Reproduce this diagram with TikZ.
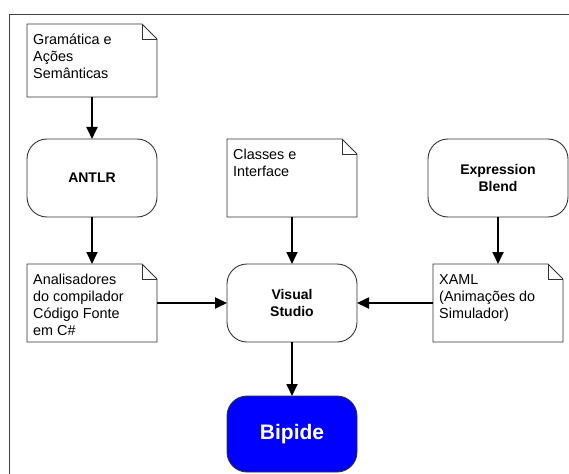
\documentclass[tikz,border=0pt]{standalone}
\usepackage{fontspec}
\setmainfont{Liberation Sans}
\usepackage{xcolor}
\usetikzlibrary{arrows.meta}

\definecolor{bipideblue}{RGB}{0,0,255}

\tikzset{
  process/.style={draw=black!80, line width=0.9pt, rounded corners=20pt,
    minimum width=130pt, minimum height=78pt, inner sep=0pt, outer sep=0pt,
    align=center, font=\fontsize{14}{17}\selectfont\bfseries},
  docnote/.style={minimum width=130pt, minimum height=78pt, inner sep=0pt, outer sep=0pt},
  doctext/.style={anchor=north west, align=left, inner xsep=6pt, inner ysep=10pt,
    font=\fontsize{14.4}{17}\selectfont},
  flow/.style={line width=1.8pt, -{Triangle[length=12pt,width=11pt]}},
}

\begin{document}
\begin{tikzpicture}[x=1pt, y=-1pt]
		\useasboundingbox (0,0) rectangle (569,473);
		% frame
		\draw[black!75, line width=1.5pt] (580,14.5) -- (9.5,14.5) -- (9.5,480);
		% documents
		\node[docnote, minimum height=73pt] (gram) at (92,60.5) {};
		\node[docnote] (classes) at (292,178) {};
		\node[docnote] (anal) at (92,303) {};
		\node[docnote] (xaml) at (498,303) {};
		\foreach \n in {gram,classes,anal,xaml} {
			\draw[draw=black!80, line width=0.9pt] (\n.north west) -- ([xshift=-15pt]\n.north east)
				-- ([yshift=-15pt]\n.north east) -- (\n.south east) -- (\n.south west) -- cycle;
			\draw[draw=black!80, line width=0.9pt] ([xshift=-15pt]\n.north east) |- ([yshift=-15pt]\n.north east);
		}
		\node[doctext] at (gram.north west) {Gramática e\\Ações\\Semânticas};
		\node[doctext] at (classes.north west) {Classes e\\Interface};
		\node[doctext] at (anal.north west) {Analisadores\\do compilador\\Código Fonte\\em C\#};
		\node[doctext] at (xaml.north west) {XAML\\(Animações do\\Simulador)};
		% processes
		\node[process] (antlr) at (92,178) {ANTLR};
		\node[process, minimum width=140pt] (blend) at (498,178) {Expression\\Blend};
		\node[process] (vs) at (292,303) {Visual\\Studio};
		\node[process, fill=bipideblue, text=white, minimum height=76pt,
			font=\fontsize{21}{25}\selectfont\bfseries] (bipide) at (292,434) {Bipide};
		% flow
		\draw[flow] (gram) -- (antlr);
		\draw[flow] (antlr) -- (anal);
		\draw[flow] (classes) -- (vs);
		\draw[flow] (blend) -- (xaml);
		\draw[flow] (anal) -- (vs);
		\draw[flow] (xaml) -- (vs);
		\draw[flow] (vs) -- (bipide);
	\end{tikzpicture}
\end{document}
